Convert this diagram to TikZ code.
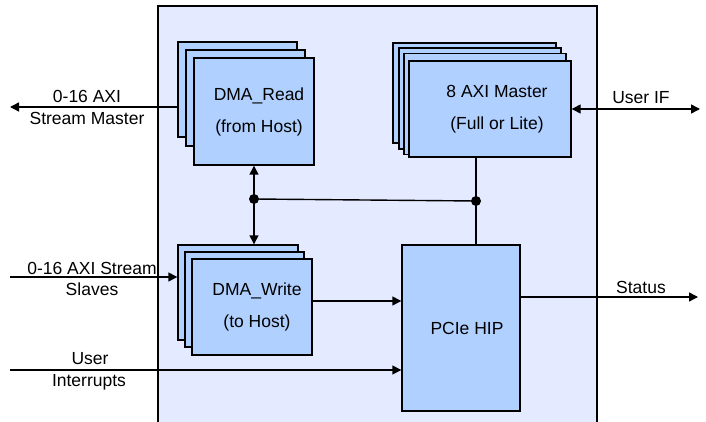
\documentclass[tikz,border=0pt]{standalone}
\usepackage{fontspec}
\setmainfont{Liberation Sans}
\usetikzlibrary{arrows.meta}
\definecolor{outerfill}{RGB}{228,234,255}
\definecolor{boxblue}{RGB}{176,208,255}
\tikzset{
  blk/.style={draw=black, fill=boxblue, line width=1.4pt, inner sep=0pt, minimum width=#1},
  lbl/.style={font=\fontsize{17.5}{20}\selectfont, inner sep=0pt, align=center},
  txt/.style={font=\fontsize{17.5}{32}\selectfont, inner sep=0pt, align=center},
  wire/.style={line width=1.4pt},
  arr/.style={wire, -{Triangle[length=9pt,width=9pt]}},
  darr/.style={wire, {Triangle[length=9pt,width=9pt]}-{Triangle[length=9pt,width=9pt]}},
  dot/.style={circle, fill=black, inner sep=0pt, minimum size=10pt}
}
\begin{document}
\begin{tikzpicture}[x=1pt, y=-1pt]
\useasboundingbox (0,0) rectangle (706,422);
% outer box
\fill[outerfill] (158,6) rectangle (597,422);
\draw[line width=1.4pt] (158,422) -- (158,6) -- (597,6) -- (597,422);

% DMA_Read stack
\node[blk=119pt, minimum height=95pt] (dmarb) at (237.5,89.5) {};
\node[blk=119pt, minimum height=96pt] (dmarm) at (245.5,98) {};
\node[blk=120pt, minimum height=107pt] (dmar) at (254,111.5) {};
\node[txt] (dmartxt) at (259,112) {DMA\_Read\\(from Host)};

% DMA_Write stack
\node[blk=120pt, minimum height=95pt] (dmawb) at (238,292.5) {};
\node[blk=119pt, minimum height=95pt] (dmawm) at (244.5,299.5) {};
\node[blk=120pt, minimum height=96pt] (dmaw) at (252,307) {};
\node[txt] (dmawtxt) at (257,307) {DMA\_Write\\(to Host)};

% AXI master stack
\node[blk=163pt, minimum height=100pt] (axi1) at (474.5,93) {};
\node[blk=162pt, minimum height=101pt] (axi2) at (480,98.5) {};
\node[blk=162pt, minimum height=101pt] (axi3) at (485,104) {};
\node[blk=162pt, minimum height=96pt] (axim) at (490,109) {};
\node[txt] (aximtxt) at (497,109.5) {8 AXI Master\\(Full or Lite)};

% PCIe HIP
\node[blk=118pt, minimum height=166pt] (pcie) at (461,328) {};
\node[lbl] (pcietxt) at (467,328) {PCIe HIP};

% junctions and free ends
\node[dot] (j1) at (254,199) {};
\node[dot] (j2) at (476,201) {};
\coordinate (smo) at (10,107);
\coordinate (ssi) at (10,277);
\coordinate (uii) at (10,370);
\coordinate (uif) at (700,109);
\coordinate (sto) at (698,297);

% connectors
\draw[arr] (dmarb.west |- smo) -- (smo);
\draw[arr] (ssi) -- (dmawb.west |- ssi);
\draw[arr] (uii) -- (pcie.west |- uii);
\draw[arr] (dmaw.east |- 0,301) -- (pcie.west |- 0,301);
\draw[arr] (pcie.east |- sto) -- (sto);
\draw[darr] (axim.east |- uif) -- (uif);
\draw[darr] (dmar.south) -- (dmar.south |- dmawb.north);
\draw[wire] (j1.center) -- (j2.center);
\draw[wire] (j2 |- axim.south) -- (j2 |- pcie.north);

% labels
\node[lbl] (lsm1) at (87,96) {0-16 AXI};
\node[lbl] (lsm2) at (87,118) {Stream Master};
\node[lbl] (lss1) at (92,268) {0-16 AXI Stream};
\node[lbl] (lss2) at (92,289) {Slaves};
\node[lbl] (lui1) at (90,359) {User};
\node[lbl] (lui2) at (89,382) {Interrupts};
\node[lbl] (luif) at (641,98) {User IF};
\node[lbl] (lst) at (641,287) {Status};
\end{tikzpicture}
\end{document}
